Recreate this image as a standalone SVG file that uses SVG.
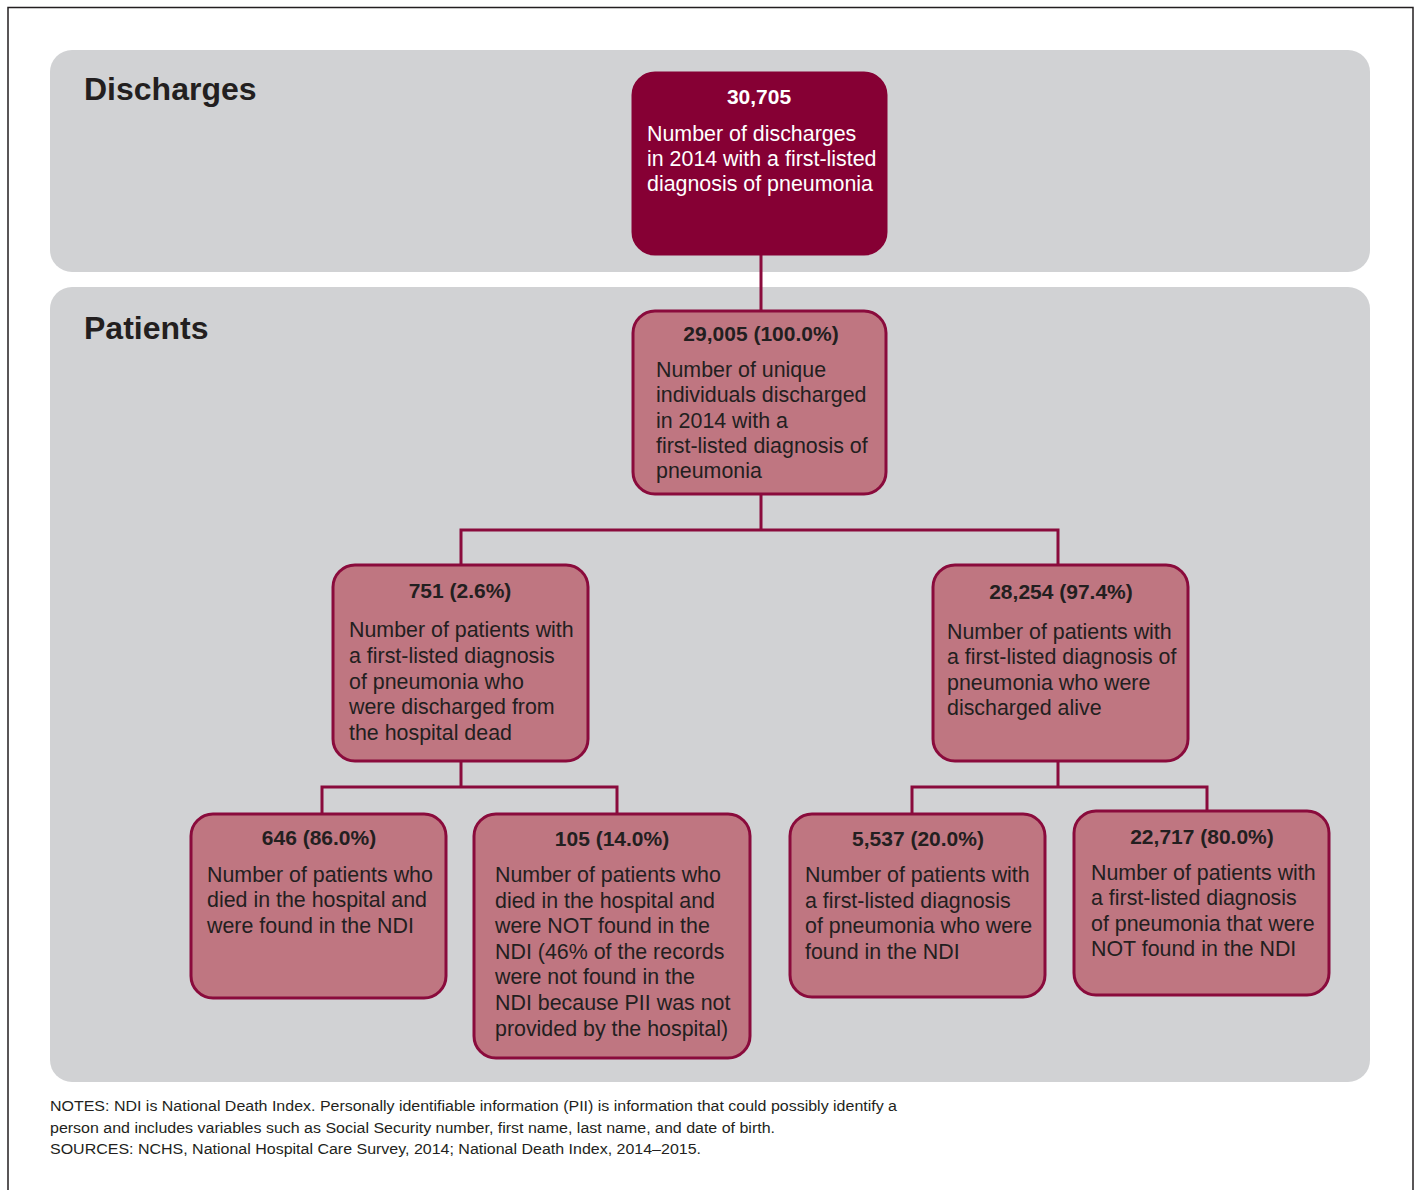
<svg xmlns="http://www.w3.org/2000/svg" width="1421" height="1190" viewBox="0 0 1421 1190">
<style>
.panel{fill:#d1d2d4}
.heading{font-family:"Liberation Sans",Arial,sans-serif;font-weight:bold;font-size:32px;fill:#231f20}
.node{fill:#bf7681;stroke:#8a0b3c;stroke-width:3}
.dark{fill:#860034;stroke:#860034;stroke-width:3}
.t{font-family:"Liberation Sans",Arial,sans-serif;font-size:21.4px;fill:#231f20}
.b{font-weight:bold;font-size:21px;text-anchor:middle}
.w{fill:#ffffff}
.conn{fill:none;stroke:#8a0b3c;stroke-width:3}
.note{font-family:"Liberation Sans",Arial,sans-serif;font-size:14px;fill:#231f20}
</style>
<rect x="0" y="0" width="1421" height="1190" fill="#ffffff"/>
<path d="M8 1190 V7.5 H1413 V1190" fill="none" stroke="#231f20" stroke-width="1.5"/>
<rect class="panel" x="50" y="50" width="1320" height="222" rx="22"/>
<rect class="panel" x="50" y="287" width="1320" height="795" rx="22"/>
<text class="heading" x="84" y="100">Discharges</text>
<text class="heading" x="84" y="339">Patients</text>
<g id="connectors">
<path class="conn" d="M761 255 V310"/>
<path class="conn" d="M761 494 V530 M461 565 V530 H1058 V565"/>
<path class="conn" d="M461 761 V787 M322 814 V787 H617 V814"/>
<path class="conn" d="M1058 761 V787 M912 814 V787 H1207 V811"/>
</g>
<g id="n30705">
<rect class="dark" x="633" y="73" width="253" height="181" rx="22"/>
<text class="t b w" x="759" y="104">30,705</text>
<text class="t w" x="647"><tspan x="647" y="141">Number of discharges</tspan><tspan x="647" y="166">in 2014 with a first-listed</tspan><tspan x="647" y="191">diagnosis of pneumonia</tspan></text>
</g>
<g id="n29005">
<rect class="node" x="633" y="311" width="253" height="183" rx="22"/>
<text class="t b" x="761" y="341">29,005 (100.0%)</text>
<text class="t"><tspan x="656" y="377">Number of unique</tspan><tspan x="656" y="402">individuals discharged</tspan><tspan x="656" y="428">in 2014 with a</tspan><tspan x="656" y="453">first-listed diagnosis of</tspan><tspan x="656" y="478">pneumonia</tspan></text>
</g>
<g id="n751">
<rect class="node" x="333" y="565" width="255" height="196" rx="22"/>
<text class="t b" x="460" y="598">751 (2.6%)</text>
<text class="t"><tspan x="349" y="637">Number of patients with</tspan><tspan x="349" y="663">a first-listed diagnosis</tspan><tspan x="349" y="689">of pneumonia who</tspan><tspan x="349" y="714">were discharged from</tspan><tspan x="349" y="740">the hospital dead</tspan></text>
</g>
<g id="n28254">
<rect class="node" x="933" y="565" width="255" height="196" rx="22"/>
<text class="t b" x="1061" y="599">28,254 (97.4%)</text>
<text class="t"><tspan x="947" y="639">Number of patients with</tspan><tspan x="947" y="664">a first-listed diagnosis of</tspan><tspan x="947" y="690">pneumonia who were</tspan><tspan x="947" y="715">discharged alive</tspan></text>
</g>
<g id="n646">
<rect class="node" x="191" y="814" width="255" height="184" rx="22"/>
<text class="t b" x="319" y="845">646 (86.0%)</text>
<text class="t"><tspan x="207" y="882">Number of patients who</tspan><tspan x="207" y="907">died in the hospital and</tspan><tspan x="207" y="933">were found in the NDI</tspan></text>
</g>
<g id="n105">
<rect class="node" x="474" y="814" width="276" height="244" rx="22"/>
<text class="t b" x="612" y="846">105 (14.0%)</text>
<text class="t"><tspan x="495" y="882">Number of patients who</tspan><tspan x="495" y="908">died in the hospital and</tspan><tspan x="495" y="933">were NOT found in the</tspan><tspan x="495" y="959">NDI (46% of the records</tspan><tspan x="495" y="984">were not found in the</tspan><tspan x="495" y="1010">NDI because PII was not</tspan><tspan x="495" y="1036">provided by the hospital)</tspan></text>
</g>
<g id="n5537">
<rect class="node" x="790" y="814" width="255" height="183" rx="22"/>
<text class="t b" x="918" y="846">5,537 (20.0%)</text>
<text class="t"><tspan x="805" y="882">Number of patients with</tspan><tspan x="805" y="908">a first-listed diagnosis</tspan><tspan x="805" y="933">of pneumonia who were</tspan><tspan x="805" y="959">found in the NDI</tspan></text>
</g>
<g id="n22717">
<rect class="node" x="1074" y="811" width="255" height="184" rx="22"/>
<text class="t b" x="1202" y="844">22,717 (80.0%)</text>
<text class="t"><tspan x="1091" y="880">Number of patients with</tspan><tspan x="1091" y="905">a first-listed diagnosis</tspan><tspan x="1091" y="931">of pneumonia that were</tspan><tspan x="1091" y="956">NOT found in the NDI</tspan></text>
</g>
<g id="notes">
<text class="note" x="50" y="1111" textLength="847" lengthAdjust="spacingAndGlyphs">NOTES: NDI is National Death Index. Personally identifiable information (PII) is information that could possibly identify a</text>
<text class="note" x="50" y="1133" textLength="725" lengthAdjust="spacingAndGlyphs">person and includes variables such as Social Security number, first name, last name, and date of birth.</text>
<text class="note" x="50" y="1154" textLength="651" lengthAdjust="spacingAndGlyphs">SOURCES: NCHS, National Hospital Care Survey, 2014; National Death Index, 2014–2015.</text>
</g>
</svg>
